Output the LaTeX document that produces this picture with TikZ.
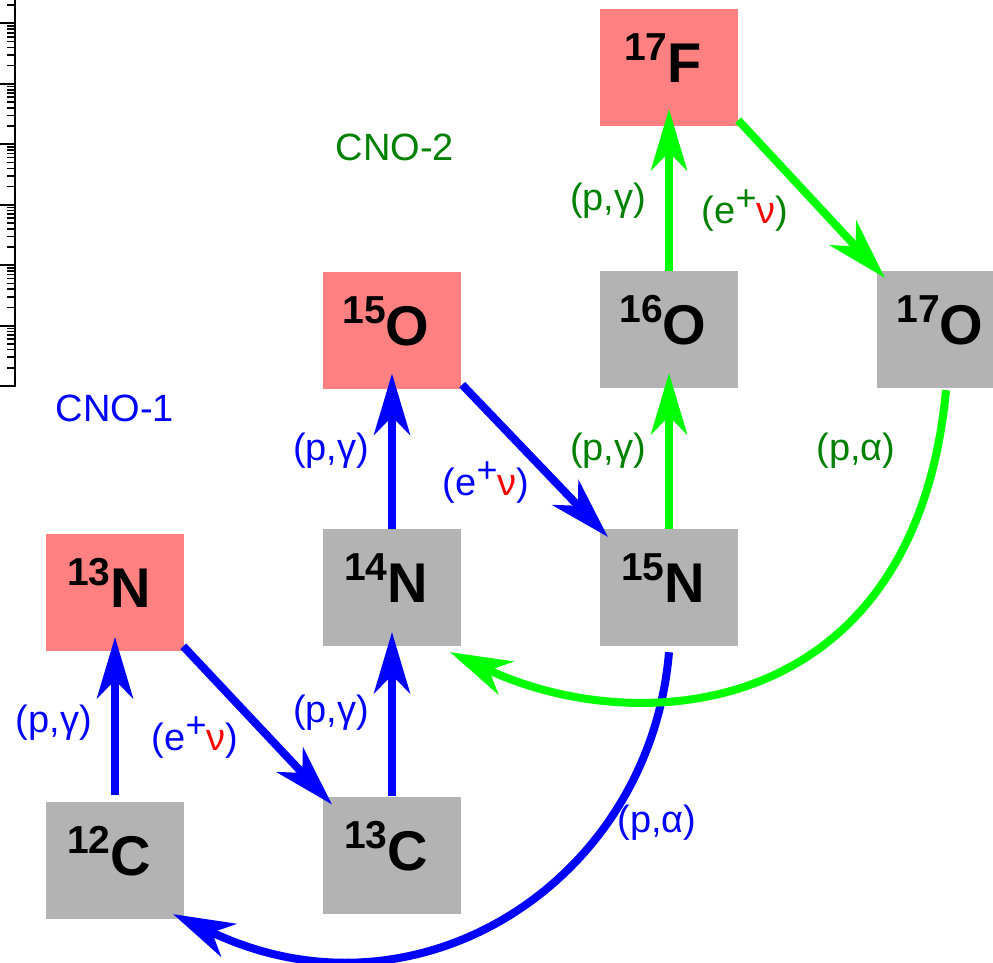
\documentclass[tikz,border=0pt]{standalone}
\usepackage{fontspec}
\setmainfont{Liberation Sans}
\usetikzlibrary{arrows.meta}
\definecolor{boxred}{HTML}{FF8080}
\definecolor{boxgray}{HTML}{B3B3B3}
\definecolor{cblue}{HTML}{0000FF}
\definecolor{cgreen}{HTML}{00FF00}
\definecolor{tgreen}{HTML}{008000}
\definecolor{nured}{HTML}{FF0000}
\newcommand{\isotope}[2]{{\fontsize{39}{39}\selectfont\bfseries\raisebox{22pt}{#1}}{\fontsize{56}{56}\selectfont\bfseries #2}\kern12pt}
\newcommand{\pgam}{(p,γ)}
\newcommand{\palp}{(p,α)}
\newcommand{\enu}{(e\raisebox{13pt}{\fontsize{36}{36}\selectfont +}\textcolor{nured}{ν})}
\begin{document}
\begin{tikzpicture}[x=1pt,y=-1pt,
  isobox/.style={rectangle, draw=none, minimum width=138pt, minimum height=117pt, inner sep=0pt, text height=50pt, text depth=20pt},
  redbox/.style={isobox, fill=boxred},
  graybox/.style={isobox, fill=boxgray},
  lab/.style={font=\fontsize{38}{38}\selectfont, inner sep=0pt, text height=28pt, text depth=8pt},
  arr/.style={line width=8pt, -{Stealth[length=62pt, width=37pt, inset=19pt, line width=0pt]}},
  arrb/.style={arr, draw=cblue, fill=cblue},
  arrg/.style={arr, draw=cgreen, fill=cgreen}]
\useasboundingbox (0,0) rectangle (993,962);
\clip (0,0) rectangle (993,962);
% axis fragment
\draw[line width=2pt] (15,0) -- (15,386) -- (0,386);
\foreach \k in {1,...,6}{
  \draw[line width=2pt] (0,{386-60.43*\k}) -- (15,{386-60.43*\k});
}
\foreach \k in {0,...,6}{
  \foreach \m in {2,...,9}{
    \pgfmathsetmacro{\yy}{386-60.43*\k-60.43*log10(\m)}
    \ifdim\yy pt>0pt
      \draw[line width=1.6pt] (7,\yy) -- (15,\yy);
    \fi
  }
}
% boxes
\node[redbox]  (n13) at (115,592.5) {\isotope{13}{N}};
\node[graybox] (c12) at (115,860)   {\isotope{12}{C}};
\node[graybox] (n14) at (392,587.5) {\isotope{14}{N}};
\node[graybox] (c13) at (392,855)   {\isotope{13}{C}};
\node[redbox]  (o15) at (392,330)   {\isotope{15}{O}};
\node[graybox] (n15) at (669,587.5) {\isotope{15}{N}};
\node[graybox] (o16) at (669,329.5) {\isotope{16}{O}};
\node[redbox]  (f17) at (669,67.5)  {\isotope{17}{F}};
\node[graybox] (o17) at (946,329.5) {\isotope{17}{O}};
% cycle labels
\node[font=\fontsize{38}{38}\selectfont, text=cblue, inner sep=0pt] (cno1) at (115,408) {CNO-1};
\node[font=\fontsize{38}{38}\selectfont, text=tgreen, inner sep=0pt] (cno2) at (395,147) {CNO-2};
% CNO-1 connectors
\draw[arrb] ([yshift=6pt]c12.north) -- ([yshift=14pt]n13.south);
\draw[arrb] ([xshift=-1pt,yshift=5pt]n13.south east) -- ([xshift=9pt,yshift=-8pt]c13.north west);
\draw[arrb] (c13.north) -- ([yshift=14pt]n14.south);
\draw[arrb] (n14.north) -- ([yshift=15pt]o15.south);
\draw[arrb] ([xshift=1pt,yshift=4pt]o15.south east) -- ([xshift=8pt,yshift=-8pt]n15.north west);
\draw[arrb, fill=none] ([yshift=-6pt]n15.south) .. controls (650,880) and (420,1030) .. ([xshift=-11pt,yshift=4.5pt]c12.south east);
% CNO-2 connectors
\draw[arrg] (n15.north) -- ([yshift=15pt]o16.south);
\draw[arrg] (o16.north) -- ([yshift=17pt]f17.south);
\draw[arrg] ([yshift=6pt]f17.south east) -- ([xshift=8pt,yshift=-7pt]o17.north west);
\draw[arrg, fill=none] ([yshift=-2pt]o17.south) .. controls (915,720) and (640,740) .. ([xshift=-11pt,yshift=-6pt]n14.south east);
% reaction labels
\node[lab, text=cblue] (l1) at (54,722) {\pgam};
\node[lab, text=cblue] (l2) at (195,740) {\enu};
\node[lab, text=cblue] (l3) at (331,712) {\pgam};
\node[lab, text=cblue] (l4) at (331,450) {\pgam};
\node[lab, text=cblue] (l5) at (486,485) {\enu};
\node[lab, text=cblue] (l6) at (657,822) {\palp};
\node[lab, text=tgreen] (l7) at (608,450) {\pgam};
\node[lab, text=tgreen] (l8) at (608,200) {\pgam};
\node[lab, text=tgreen] (l9) at (745,213) {\enu};
\node[lab, text=tgreen] (l10) at (856,450) {\palp};
\end{tikzpicture}
\end{document}
